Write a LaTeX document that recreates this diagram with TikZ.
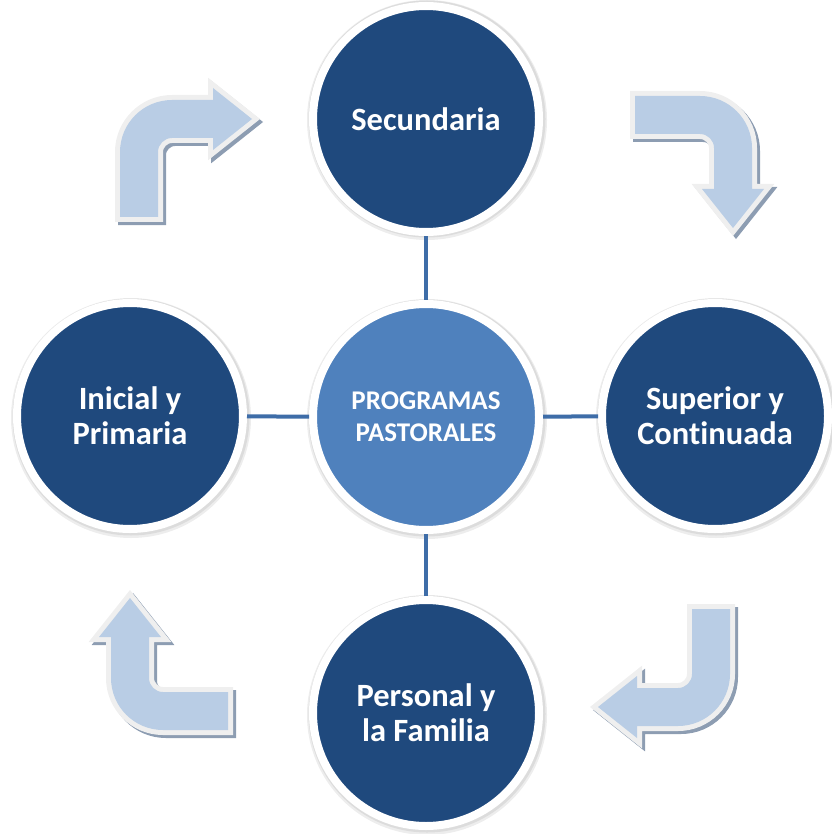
\documentclass[tikz,border=0pt]{standalone}
\usepackage{fontspec}
\setmainfont{Carlito}[Ligatures=NoCommon]
\definecolor{darkblue}{HTML}{1F497D}
\definecolor{midblue}{HTML}{4F81BD}
\definecolor{connblue}{HTML}{3E6DA8}
\definecolor{arrowblue}{HTML}{B9CDE5}
\definecolor{bordergray}{HTML}{EFEFEF}
\definecolor{shadowgray}{HTML}{8D9DB2}
\tikzset{
  outercircle/.style={circle, minimum size=226pt, inner sep=0pt, fill=darkblue, draw=white,
    line width=8pt, text=white, align=center,
    font=\fontsize{32.5}{35}\selectfont\bfseries},
  centercircle/.style={outercircle, fill=midblue, font=\fontsize{27}{32}\selectfont\bfseries},
  conn/.style={draw=connblue, line width=4pt},
  circshadow/.style={fill=black, opacity=0.07},
  arrshadow/.style={draw=shadowgray, fill=shadowgray, line width=10pt},
  arrborder/.style={draw=bordergray, fill=bordergray, line width=10pt},
  arrfill/.style={fill=arrowblue},
  pics/bent/.style={code={
    \path[#1] (-66,63) -- (-66,-2) .. controls (-66,-30.7) and (-42.7,-54) .. (-14,-54)
      -- (27,-54) -- (27,-66) -- (66,-35) -- (27,-4) -- (27,-16) -- (-14,-16)
      .. controls (-21.7,-16) and (-28,-9.7) .. (-28,-2) -- (-28,63) -- cycle;
  }}
}
\begin{document}
\begin{tikzpicture}[x=1pt,y=-1pt]
\useasboundingbox (0,0) rectangle (831,834);

% circle shadows
\foreach \cx/\cy in {426/417, 426/118, 130/416, 715/416, 426/713}{
  \fill[circshadow] (\cx+1,\cy+2) circle[radius=120pt];
  \fill[circshadow] (\cx+1,\cy+1) circle[radius=118.5pt];
}

% curved arrows: shadow, border, fill
\foreach \ax/\ay/\rot in {186/154/0, 698/162/-90, 664/672/180, 165/664/90}{
  \pic[rotate=\rot] at (\ax+3,\ay+3) {bent=arrshadow};
  \pic[rotate=\rot] at (\ax,\ay) {bent=arrborder};
  \pic[rotate=\rot] at (\ax,\ay) {bent=arrfill};
}

% circles
\node[centercircle] (center) at (426,417) {PROGRAMAS\\PASTORALES};
\node[outercircle] (top) at (426,119) {Secundaria};
\node[outercircle] (left) at (130,416) {Inicial y\\Primaria};
\node[outercircle] (right) at (715,416) {Superior y\\Continuada};
\node[outercircle] (bottom) at (426,713) {Personal y\\la Familia};

% connectors
\draw[conn] (top) -- (center);
\draw[conn] (left) -- (center);
\draw[conn] (right) -- (center);
\draw[conn] (bottom) -- (center);
\end{tikzpicture}
\end{document}
